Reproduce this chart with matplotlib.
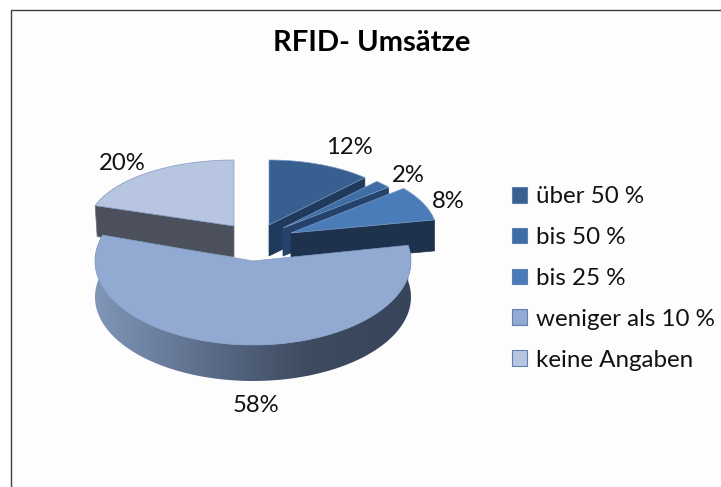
import numpy as np
import matplotlib
matplotlib.use('Agg')
import matplotlib.pyplot as plt
from matplotlib.patches import Polygon, Patch

plt.rcParams['font.family'] = ['Lato', 'DejaVu Sans']

title = 'RFID- Umsätze'
labels = ['über 50 %', 'bis 50 %', 'bis 25 %', 'weniger als 10 %', 'keine Angaben']
values = [12, 2, 8, 58, 20]
top_colors = ['#375F8F', '#3F6EA6', '#4A7CBA', '#92A9D2', '#B7C5E0']
wall_colors = ['#1F3A5C', '#25426C', '#1E324E', '#3B4658', '#4B505C']

# apex of each exploded slice in pixels, radii and depth
apex = [(269, 225), (283, 228), (291, 233), (253, 261), (234, 226)]
rx = [140, 137, 146, 158, 146]
ry = [65, 64, 70, 84, 66]
depth = [31, 28, 31, 36, 31]
label_pos = [(349, 147), (408, 176), (448, 202), (256, 405), (122, 163)]

fig = plt.figure(figsize=(7.21, 4.87), dpi=100, facecolor='white')
ax = fig.add_axes([0, 0, 1, 1])
ax.set_xlim(0, 721)
ax.set_ylim(487, 0)
ax.axis('off')

# chart frame
ax.add_patch(Polygon([(11, 10), (721, 10), (721, 487), (11, 487)], closed=True,
                     fc='#FDFDFD', ec='none', zorder=0))
ax.plot([11, 11, 721], [487, 10, 10], color='#404040', lw=1.0, zorder=1)

edges = np.cumsum([0] + values) / sum(values) * 2 * np.pi


def rim(i, t):
    x = apex[i][0] + rx[i] * np.sin(t)
    y = apex[i][1] - ry[i] * np.cos(t)
    return x, y


def draw_slice(i, z):
    a0, a1 = edges[i], edges[i + 1]
    t = np.linspace(a0, a1, 200)
    x, y = rim(i, t)
    ax0, ay0 = apex[i]
    d = depth[i]

    if i == 3:
        # outer side with the dark gradient, only this slice shows it
        px = np.r_[x, x[::-1]]
        py = np.r_[y, y[::-1] + d]
        clip = Polygon(np.c_[px, py], closed=True, fc='none', ec='none', zorder=z)
        ax.add_patch(clip)
        g = np.linspace(0, 1, 256).reshape(1, -1)
        cmap = matplotlib.colors.LinearSegmentedColormap.from_list(
            'side', ['#8096B8', '#5D6F8C', '#3E4B60', '#37445A'])
        im = ax.imshow(g, extent=[ax0 - rx[i], ax0 + rx[i], y.max() + d, y.min()],
                       cmap=cmap, aspect='auto', zorder=z, interpolation='bilinear')
        im.set_clip_path(clip)
        ax.set_xlim(0, 721)
        ax.set_ylim(487, 0)
    elif i == 4:
        # left cut face of the top slice
        ax.add_patch(Polygon([(x[0], y[0]), (ax0, ay0), (ax0, ay0 + d), (x[0] + 2, y[0] + d)],
                             closed=True, fc=wall_colors[i], ec='#6A7383', lw=0.5, zorder=z))
    else:
        # right cut face
        ax.add_patch(Polygon([(x[-1], y[-1]), (ax0, ay0), (ax0, ay0 + d), (x[-1], y[-1] + d)],
                             closed=True, fc=wall_colors[i], ec=wall_colors[i], lw=0.5, zorder=z))

    ax.add_patch(Polygon(np.c_[np.r_[ax0, x], np.r_[ay0, y]], closed=True,
                         fc=top_colors[i], ec='#7F9CC4', lw=0.5, zorder=z + 0.5))


for z, i in enumerate([0, 1, 2, 4, 3]):
    draw_slice(i, 2 + z)

for v, (lx, ly) in zip(values, label_pos):
    ax.text(lx, ly, f'{v}%', fontsize=17.2, color='#111111', ha='center', va='center', zorder=10)

ax.text(372, 43, title, fontsize=21, fontweight='bold', color='black',
        ha='center', va='center', zorder=10)

handles = [Patch(fc=c, ec='#5F7FAF', lw=0.8) for c in top_colors]
ax.legend(handles, labels, loc='upper left', bbox_to_anchor=(493 / 721, 1 - 167 / 487),
          frameon=False, fontsize=17.4, labelspacing=0.82, handlelength=0.62,
          handleheight=0.62, handletextpad=0.36, borderpad=0.3, labelcolor='#111111')

fig.savefig('out.png', dpi=100)
